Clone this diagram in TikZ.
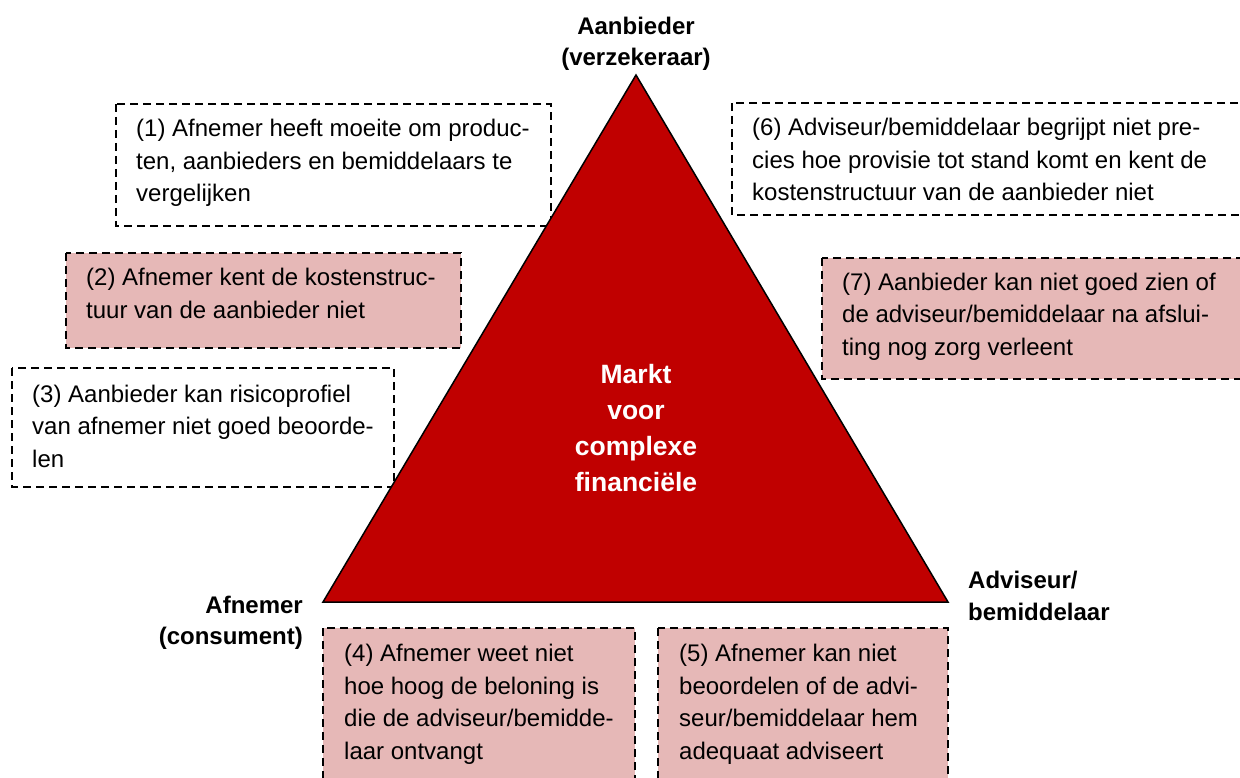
\documentclass[tikz,border=0pt]{standalone}
\usepackage{fontspec}
\setmainfont{Liberation Sans}
\definecolor{trired}{HTML}{C00000}
\definecolor{pinkc}{HTML}{E6B8B7}
\begin{document}
\begin{tikzpicture}[x=1pt,y=-1pt,
  box/.style={draw=black, line width=1.8pt, dash pattern=on 8pt off 5pt},
  pinkbox/.style={box, fill=pinkc},
  txt/.style={anchor=base west, inner sep=0pt, align=left, font=\fontsize{24}{32.5}\selectfont},
  lbl/.style={inner sep=0pt, font=\fontsize{24}{31}\selectfont\bfseries}]
\useasboundingbox (0,0) rectangle (1240,778);
\clip (0,0) rectangle (1240,778);
% boxes
\draw[box] (116,104) rectangle (551,226);
\draw[pinkbox] (66,253) rectangle (461,348);
\draw[box] (12,368) rectangle (394,487);
\draw[box] (732,103) rectangle (1250,215);
\draw[pinkbox] (822,258) rectangle (1250,379);
\draw[pinkbox] (323,628) rectangle (635,790);
\draw[pinkbox] (658,628) rectangle (948,790);
% triangle
\coordinate (top) at (636,75);
\coordinate (bl) at (323,602);
\coordinate (br) at (948,602);
\draw[fill=trired, draw=black, line width=1.5pt, line join=miter] (top) -- (bl) -- (br) -- cycle;
% box texts (node base = baseline of last line)
\node[txt] (t1) at (136,202) {(1) Afnemer heeft moeite om produc-\\ten, aanbieders en bemiddelaars te\\vergelijken};
\node[txt] (t2) at (86,318) {(2) Afnemer kent de kostenstruc-\\tuur van de aanbieder niet};
\node[txt] (t3) at (32,467) {(3) Aanbieder kan risicoprofiel\\van afnemer niet goed beoorde-\\len};
\node[txt] (t6) at (752,201) {(6) Adviseur/bemiddelaar begrijpt niet pre-\\cies hoe provisie tot stand komt en kent de\\kostenstructuur van de aanbieder niet};
\node[txt] (t7) at (842,355) {(7) Aanbieder kan niet goed zien of\\de adviseur/bemiddelaar na afslui-\\ting nog zorg verleent};
\node[txt] (t4) at (344,759) {(4) Afnemer weet niet\\hoe hoog de beloning is\\die de adviseur/bemidde-\\laar ontvangt};
\node[txt] (t5) at (679,759) {(5) Afnemer kan niet\\beoordelen of de advi-\\seur/bemiddelaar hem\\adequaat adviseert};
% corner labels
\node[lbl, anchor=base, align=center] (aanb) at (636,66) {Aanbieder\\(verzekeraar)};
\node[lbl, anchor=base east, align=right] (afn) at (303,644) {Afnemer\\(consument)};
\node[lbl, anchor=base west, align=left, font=\fontsize{24}{32}\selectfont\bfseries] (adv) at (968,620) {Adviseur/\\bemiddelaar};
% centre
\node[inner sep=0pt, anchor=base, align=center, text=white, font=\fontsize{26.5}{36}\selectfont\bfseries] (markt) at (636,491) {Markt\\voor\\complexe\\financiële};
\end{tikzpicture}
\end{document}
